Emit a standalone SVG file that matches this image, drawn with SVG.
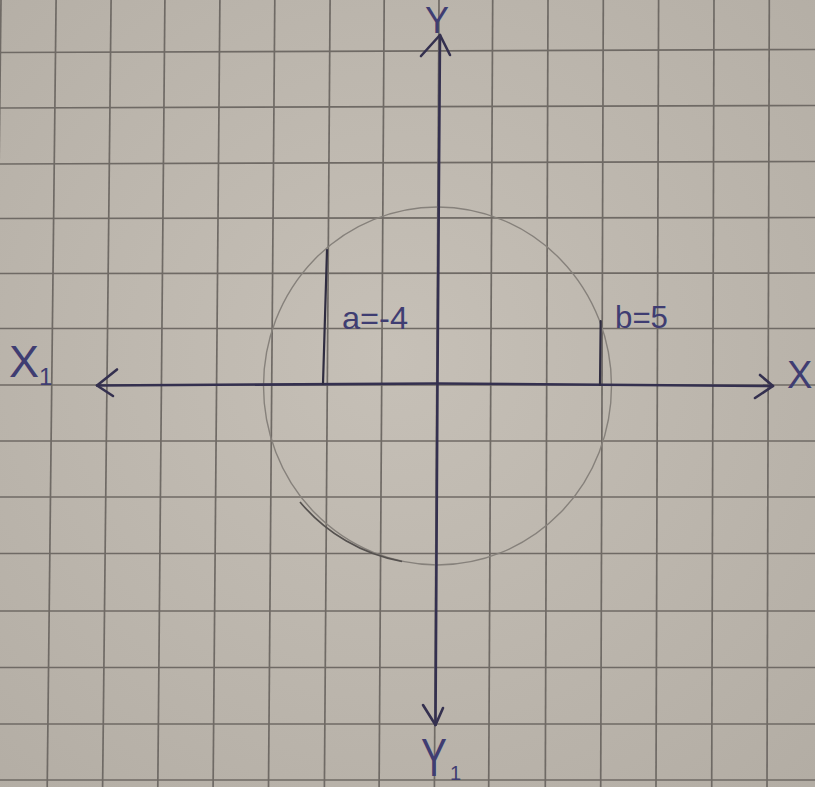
<svg xmlns="http://www.w3.org/2000/svg" width="815" height="787" viewBox="0 0 815 787">
  <defs>
    <radialGradient id="paper" cx="48%" cy="45%" r="75%">
      <stop offset="0" stop-color="#c6c0b7"/>
      <stop offset="1" stop-color="#b3ada4"/>
    </radialGradient>
    <style>
      .grid line { stroke: #6f6a65; stroke-width: 1.7; }
      .axis { stroke: #34304f; stroke-width: 2.6; fill: none; stroke-linecap: round; stroke-linejoin: round; }
      .tick { stroke: #2f2c40; stroke-width: 2.2; fill: none; stroke-linecap: round; }
      .pencil { stroke: #86817b; stroke-width: 1.4; fill: none; }
      .ink { fill: #3f3d72; font-family: "Liberation Sans", Arial, sans-serif; }
    </style>
  </defs>
  <rect width="815" height="787" fill="url(#paper)"/>
  <g id="grid" class="grid">
    <line x1="1" y1="0" x2="-8" y2="787"/>
    <line x1="56.1" y1="0" x2="47.2" y2="787"/>
    <line x1="111.1" y1="0" x2="102.6" y2="787"/>
    <line x1="164.9" y1="0" x2="157.8" y2="787"/>
    <line x1="219.9" y1="0" x2="213.1" y2="787"/>
    <line x1="274.8" y1="0" x2="268.5" y2="787"/>
    <line x1="330.1" y1="0" x2="324.4" y2="787"/>
    <line x1="384.2" y1="0" x2="379.1" y2="787"/>
    <line x1="439" y1="0" x2="434.4" y2="787"/>
    <line x1="492.7" y1="0" x2="488.7" y2="787"/>
    <line x1="548" y1="0" x2="545.3" y2="787"/>
    <line x1="603.3" y1="0" x2="600.7" y2="787"/>
    <line x1="658.6" y1="0" x2="656" y2="787"/>
    <line x1="714" y1="0" x2="711.7" y2="787"/>
    <line x1="769.3" y1="0" x2="767" y2="787"/>
    <line x1="0" y1="52.5" x2="815" y2="49.5"/>
    <line x1="0" y1="108" x2="815" y2="105.5"/>
    <line x1="0" y1="164" x2="815" y2="161.5"/>
    <line x1="0" y1="218.5" x2="815" y2="217.5"/>
    <line x1="0" y1="273.5" x2="815" y2="273"/>
    <line x1="0" y1="328.5" x2="815" y2="328.5"/>
    <line x1="0" y1="385" x2="815" y2="385"/>
    <line x1="0" y1="441" x2="815" y2="441"/>
    <line x1="0" y1="497" x2="815" y2="497"/>
    <line x1="0" y1="553.5" x2="815" y2="553.5"/>
    <line x1="0" y1="611" x2="815" y2="611"/>
    <line x1="0" y1="667.5" x2="815" y2="667.5"/>
    <line x1="0" y1="724" x2="815" y2="724"/>
    <line x1="0" y1="780" x2="815" y2="780"/>
  </g>
  <g id="circle">
    <ellipse class="pencil" cx="437.5" cy="386" rx="174" ry="179"/>
    <path d="M 300 502 A 174 179 0 0 0 402 561.5" stroke="#55514f" stroke-width="1.7" fill="none"/>
  </g>
  <g id="connectors">
    <polyline class="axis" points="97,385.5 437,383.5 773,386"/>
    <polyline class="axis" points="117,369.5 97,385.5 113,396"/>
    <polyline class="axis" points="760,375 773,386 755,398"/>
    <polyline class="axis" points="440,35 437.5,380 435.5,725"/>
    <polyline class="axis" points="421,56 440,35 450,55"/>
    <polyline class="axis" points="423,705 435.5,725 443,708"/>
    <line class="tick" x1="327" y1="250" x2="323" y2="384"/>
    <line class="tick" x1="600.7" y1="321" x2="600" y2="385"/>
  </g>
  <g id="label-y">
    <text class="ink" x="425" y="33" font-size="36">Y</text>
  </g>
  <g id="label-x">
    <text class="ink" x="787" y="388" font-size="38">X</text>
  </g>
  <g id="label-x1">
    <text class="ink" x="9" y="377" font-size="45">X<tspan font-size="24" dy="8">1</tspan></text>
  </g>
  <g id="label-y1">
    <text class="ink" transform="translate(421,776) scale(0.72,1)" font-size="54">Y</text>
    <text class="ink" x="450" y="780" font-size="20">1</text>
  </g>
  <g id="label-a">
    <text class="ink" x="342" y="329" font-size="32" textLength="66" lengthAdjust="spacingAndGlyphs">a=-4</text>
  </g>
  <g id="label-b">
    <text class="ink" x="615" y="328" font-size="32" textLength="53" lengthAdjust="spacingAndGlyphs">b=5</text>
  </g>
</svg>
